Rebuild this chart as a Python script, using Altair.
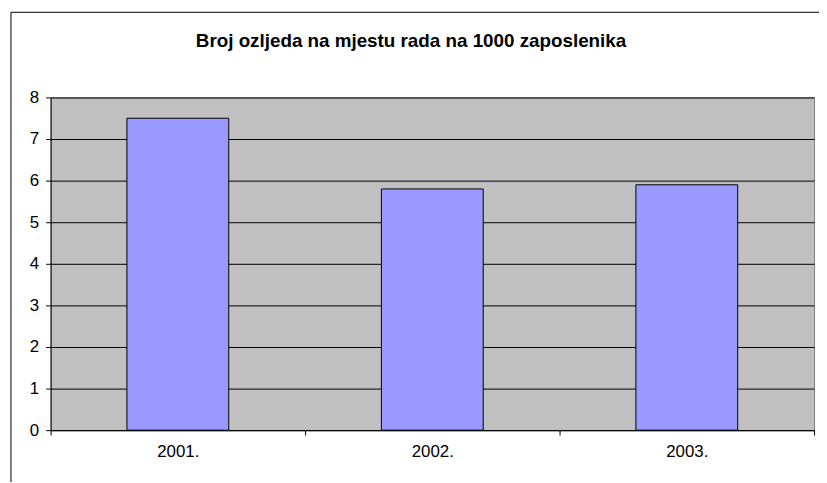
import altair as alt
import pandas as pd

years = ["2001.", "2002.", "2003."]
values = [7.5, 5.8, 5.9]
y_ticks = [0, 1, 2, 3, 4, 5, 6, 7, 8]
title_text = "Broj ozljeda na mjestu rada na 1000 zaposlenika"

df = pd.DataFrame({"year": years, "value": values})
frame_df = pd.DataFrame({"f": [0]})
title_df = pd.DataFrame({"t": [title_text]})

W, H = 771, 336
FONT = "Liberation Sans"

bars = alt.Chart(df).mark_bar(
    fill="#9999FF", stroke="#000000", strokeWidth=1, width={"band": 0.4}
).encode(
    x=alt.X(
        "year:N", sort=years,
        scale=alt.Scale(paddingInner=0, paddingOuter=0),
        axis=alt.Axis(
            title=None, labelAngle=0, tickBand="extent", ticks=True, tickSize=5,
            tickColor="#000000", domainColor="#000000", labelFont=FONT,
            labelFontSize=17, labelColor="#000000", labelPadding=9, grid=False,
        ),
    ),
    y=alt.Y(
        "value:Q",
        scale=alt.Scale(domain=[0, 8], nice=False, zero=True),
        axis=alt.Axis(
            title=None, values=y_ticks, tickSize=5, tickColor="#000000",
            grid=True, gridColor="#000000", gridWidth=1, domainColor="#000000",
            labelFont=FONT, labelFontSize=17, labelColor="#000000", labelPadding=7,
        ),
    ),
)

border = alt.Chart(frame_df).mark_rect(
    fillOpacity=0, stroke="#000000", strokeWidth=1
).encode(
    x=alt.value(-40), x2=alt.value(W + 40),
    y=alt.value(-86), y2=alt.value(H + 100),
)

title = alt.Chart(title_df).mark_text(
    font=FONT, fontSize=19, fontWeight="bold", color="#000000",
    align="center", baseline="alphabetic",
).encode(
    text="t:N", x=alt.value(364), y=alt.value(-51),
)

chart = alt.layer(border, bars, title).properties(
    width=W, height=H,
    autosize=alt.AutoSizeParams(type="none"),
    padding={"left": 43, "top": 88, "right": 5, "bottom": 50},
    background="#FFFFFF",
).configure_view(
    fill="#C0C0C0", stroke="#808080", strokeWidth=1
)

chart.save("out.html", embed_options={"renderer": "svg", "actions": False})
